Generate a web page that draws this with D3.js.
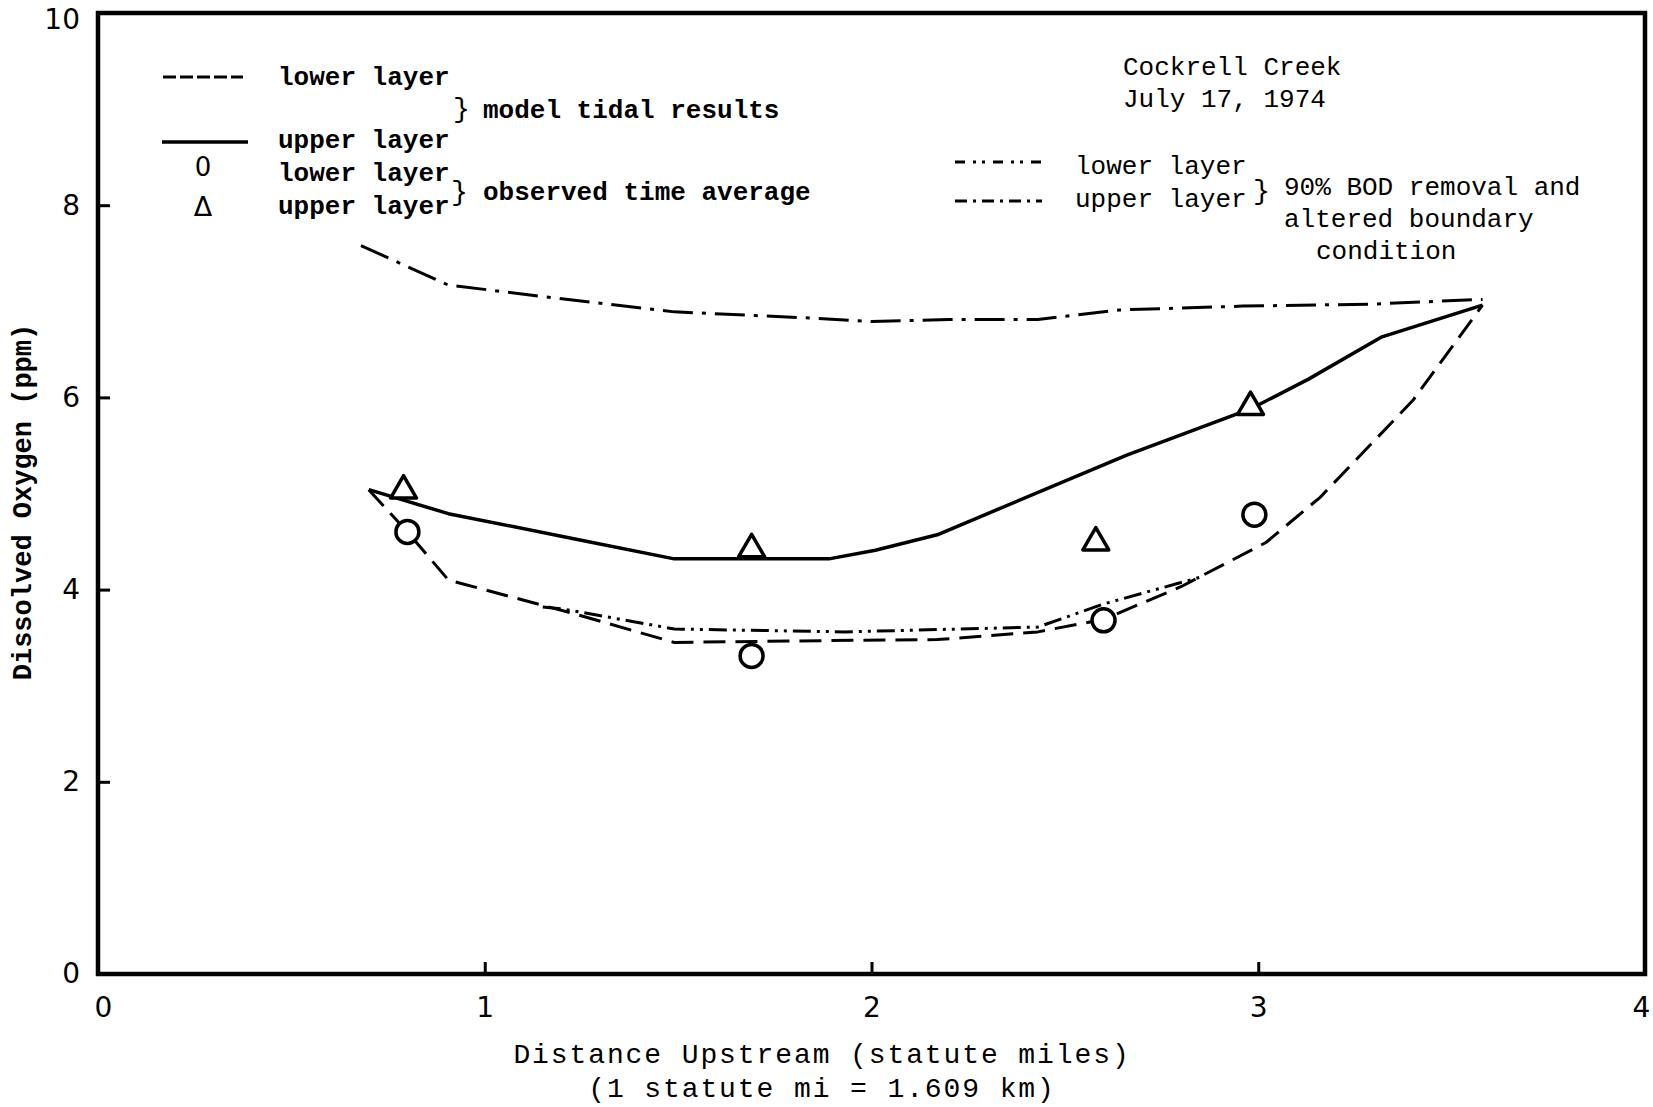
<!DOCTYPE html>
<html>
<head>
<meta charset="utf-8">
<script src="https://cdn.jsdelivr.net/npm/d3@7"></script>
<style>
  html, body { margin: 0; padding: 0; background: #fff; }
  svg { display: block; }
  .mono { font-family: "Liberation Mono", "Courier New", monospace; }
</style>
</head>
<body>
<svg id="chart" width="1653" height="1107"></svg>
<script>
// ---------- data (distance upstream, statute miles ; dissolved oxygen, ppm) ----------
const xTicks = [0, 1, 2, 3, 4];
const yTicks = [0, 2, 4, 6, 8, 10];

// model tidal results, lower layer (dashed)
const modelLowerX = [0.70, 0.80, 0.906, 1.23, 1.49, 1.89, 2.17, 2.43, 2.60, 2.80, 3.02, 3.16, 3.40, 3.58];
const modelLowerY = [5.04, 4.60, 4.10, 3.75, 3.45, 3.47, 3.48, 3.56, 3.69, 4.03, 4.49, 4.96, 5.97, 6.96];

// model tidal results, upper layer (solid)
const modelUpperX = [0.70, 0.906, 1.23, 1.49, 1.89, 2.01, 2.17, 2.66, 2.98, 3.13, 3.32, 3.58];
const modelUpperY = [5.04, 4.79, 4.53, 4.32, 4.32, 4.41, 4.57, 5.40, 5.88, 6.19, 6.63, 6.96];

// 90% BOD removal, lower layer (dash-dot-dot)
const bodLowerX = [1.15, 1.20, 1.49, 1.93, 2.43, 2.60, 2.86];
const bodLowerY = [3.82, 3.80, 3.59, 3.56, 3.61, 3.85, 4.14];

// 90% BOD removal, upper layer (dash-dot)
const bodUpperX = [0.68, 0.905, 1.19, 1.49, 1.82, 2.00, 2.20, 2.43, 2.64, 2.96, 3.29, 3.58];
const bodUpperY = [7.58, 7.17, 7.03, 6.89, 6.83, 6.79, 6.81, 6.81, 6.91, 6.95, 6.97, 7.02];

// observed time average
const obsLowerX = [0.80, 1.69, 2.60, 2.99];   // circles
const obsLowerY = [4.60, 3.31, 3.68, 4.78];
const obsUpperX = [0.79, 1.69, 2.58, 2.98];   // triangles
const obsUpperY = [5.03, 4.42, 4.49, 5.90];

// ---------- layout ----------
const svg = d3.select("#chart");
const L = 98, R = 1645, T = 13, B = 974;
const x = d3.scaleLinear().domain([0, 4]).range([L, R]);
const y = d3.scaleLinear().domain([0, 10]).range([B, T]);

const zip = (xs, ys) => xs.map((v, i) => [v, ys[i]]);
const lineGen = d3.line().x(d => x(d[0])).y(d => y(d[1])).curve(d3.curveLinear);

// axes (ticks point inward)
const xAxis = d3.axisBottom(x).tickValues(xTicks).tickSizeInner(-12).tickSizeOuter(0).tickPadding(23).tickFormat(d3.format("d"));
const yAxis = d3.axisLeft(y).tickValues(yTicks).tickSizeInner(-12).tickSizeOuter(0).tickPadding(18).tickFormat(d3.format("d"));

const gx = svg.append("g").attr("transform", `translate(0,${B})`).call(xAxis);
const gy = svg.append("g").attr("transform", `translate(${L},0)`).call(yAxis);
[gx, gy].forEach(g => {
  g.select(".domain").remove();
  g.selectAll(".tick line").attr("stroke", "#000").attr("stroke-width", 3);
  g.selectAll(".tick text").attr("fill", "#000")
    .style("font-family", "'DejaVu Sans', sans-serif").style("font-size", "28px");
});
gx.selectAll(".tick text").attr("dx", d => d === 0 ? 5 : (d === 4 ? -4 : 0));
gy.selectAll(".tick text").attr("dy", d => d === 10 ? "0.55em" : "0.32em");

// plot frame
svg.append("rect").attr("x", L).attr("y", T).attr("width", R - L).attr("height", B - T)
  .attr("fill", "none").attr("stroke", "#000").attr("stroke-width", 4.5);

// ---------- series ----------
const series = [
  { pts: zip(bodUpperX, bodUpperY), dash: "30,9,4,9", w: 3 },
  { pts: zip(modelUpperX, modelUpperY), dash: null, w: 3.5 },
  { pts: zip(modelLowerX, modelLowerY), dash: "22,10", w: 3 },
  { pts: zip(bodLowerX, bodLowerY), dash: "18,6,3,6,3,6", w: 3 }
];
series.forEach(s => {
  svg.append("path").attr("d", lineGen(s.pts)).attr("fill", "none")
    .attr("stroke", "#000").attr("stroke-width", s.w)
    .attr("stroke-linejoin", "round").attr("stroke-linecap", "butt")
    .attr("stroke-dasharray", s.dash);
});

// circles
svg.append("g").selectAll("circle").data(zip(obsLowerX, obsLowerY)).join("circle")
  .attr("cx", d => x(d[0])).attr("cy", d => y(d[1])).attr("r", 11.5)
  .attr("fill", "#fff").attr("stroke", "#000").attr("stroke-width", 3.5);

// triangles
const tri = d3.symbol().type(d3.symbolTriangle).size(290);
svg.append("g").selectAll("path").data(zip(obsUpperX, obsUpperY)).join("path")
  .attr("d", tri).attr("transform", d => `translate(${x(d[0])},${y(d[1])})`)
  .attr("fill", "#fff").attr("stroke", "#000").attr("stroke-width", 3.5).attr("stroke-linejoin", "round");

// ---------- text ----------
function txt(str, tx, ty, opts = {}) {
  return svg.append("text").attr("x", tx).attr("y", ty).text(str)
    .attr("class", "mono").attr("fill", "#000")
    .style("font-size", (opts.size || 26) + "px")
    .style("font-weight", opts.weight || "bold")
    .attr("text-anchor", opts.anchor || "start")
    .style("letter-spacing", opts.ls || null)
    .style("font-family", opts.family || null);
}

// axis titles
txt("Distance Upstream (statute miles)", 822, 1063, { size: 28, weight: "normal", anchor: "middle", ls: "1.9px" });
txt("(1 statute mi = 1.609 km)", 822, 1097, { size: 28, weight: "normal", anchor: "middle", ls: "1.9px" });
svg.append("text").attr("transform", "translate(31,502) rotate(-90)")
  .attr("class", "mono").attr("text-anchor", "middle").style("font-size", "27px")
  .style("font-weight", "bold").text("Dissolved Oxygen (ppm)");

// left legend
svg.append("line").attr("x1", 163).attr("x2", 243).attr("y1", 77).attr("y2", 77)
  .attr("stroke", "#000").attr("stroke-width", 3).attr("stroke-dasharray", "13,4");
txt("lower layer", 278, 85);
txt("}", 453, 117, { weight: "normal", size: 28 });
txt("model tidal results", 483, 118);
svg.append("line").attr("x1", 162).attr("x2", 248).attr("y1", 142).attr("y2", 142)
  .attr("stroke", "#000").attr("stroke-width", 3.5);
txt("upper layer", 278, 148);
txt("0", 203, 176, { anchor: "middle", size: 26, weight: "normal", family: "'DejaVu Sans', sans-serif" });
txt("lower layer", 278, 181);
txt("Δ", 203, 216, { anchor: "middle", size: 27, weight: "normal", family: "'DejaVu Sans', sans-serif" });
txt("upper layer", 278, 214);
txt("}", 451, 200, { weight: "normal", size: 28 });
txt("observed time average", 483, 200);

// right legend
txt("Cockrell Creek", 1123, 75, { weight: "normal" });
txt("July 17, 1974", 1123, 107, { weight: "normal" });
svg.append("line").attr("x1", 955).attr("x2", 1042).attr("y1", 162).attr("y2", 162)
  .attr("stroke", "#000").attr("stroke-width", 3).attr("stroke-dasharray", "10,8,3,6,3,8");
svg.append("line").attr("x1", 955).attr("x2", 1042).attr("y1", 201).attr("y2", 201)
  .attr("stroke", "#000").attr("stroke-width", 3).attr("stroke-dasharray", "12,6,3,6");
txt("lower layer", 1075, 174, { weight: "normal" });
txt("upper layer", 1075, 207, { weight: "normal" });
txt("}", 1253, 199, { weight: "normal", size: 28 });
txt("90% BOD removal and", 1284, 195, { weight: "normal" });
txt("altered boundary", 1284, 227, { weight: "normal" });
txt("condition", 1316, 259, { weight: "normal" });
</script>
</body>
</html>
